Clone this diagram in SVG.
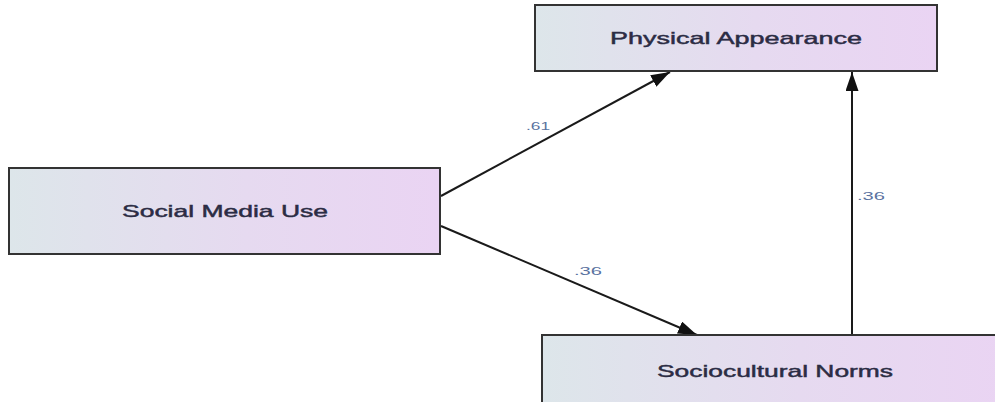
<svg xmlns="http://www.w3.org/2000/svg" width="995" height="402" viewBox="0 0 995 402">
  <defs>
    <linearGradient id="boxfill" x1="0" y1="0" x2="1" y2="0">
      <stop offset="0" stop-color="#dde6ea"/>
      <stop offset="0.55" stop-color="#e6daf0"/>
      <stop offset="1" stop-color="#ead4f3"/>
    </linearGradient>
    <marker id="arrow" markerUnits="userSpaceOnUse" markerWidth="20" markerHeight="14" refX="19" refY="6.5" orient="auto">
      <path d="M0,0 L19,6.5 L0,13 z" fill="#111"/>
    </marker>
  </defs>
  <style>
    .box { fill: url(#boxfill); stroke: #333; stroke-width: 2; }
    .label { font-family: "Liberation Sans", Arial, sans-serif; font-size: 17px; fill: #2b2c44; stroke: #2b2c44; stroke-width: 0.45; text-anchor: middle; }
    .coef { font-family: "Liberation Sans", Arial, sans-serif; font-size: 11px; fill: #5a72a0; text-anchor: middle; }
    .edge { stroke: #1a1a1a; stroke-width: 2; fill: none; marker-end: url(#arrow); }
  </style>
  <rect width="995" height="402" fill="#ffffff"/>
  <g id="connectors">
    <line class="edge" x1="441" y1="196" x2="670" y2="72"/>
    <line class="edge" x1="441" y1="226" x2="697" y2="335"/>
    <line class="edge" x1="852" y1="335" x2="852" y2="72"/>
    <text class="coef" x="538" y="130" textLength="24" lengthAdjust="spacingAndGlyphs">.61</text>
    <text class="coef" x="588" y="275" textLength="28" lengthAdjust="spacingAndGlyphs">.36</text>
    <text class="coef" x="871" y="200" textLength="28" lengthAdjust="spacingAndGlyphs">.36</text>
  </g>
  <g id="physical-appearance">
    <rect class="box" x="535" y="5" width="402" height="66"/>
    <text class="label" x="736" y="44" textLength="252" lengthAdjust="spacingAndGlyphs">Physical Appearance</text>
  </g>
  <g id="social-media-use">
    <rect class="box" x="9" y="168" width="431" height="86"/>
    <text class="label" x="225" y="217" textLength="206" lengthAdjust="spacingAndGlyphs">Social Media Use</text>
  </g>
  <g id="sociocultural-norms">
    <rect class="box" x="542" y="335" width="470" height="90"/>
    <text class="label" x="775" y="377" textLength="236" lengthAdjust="spacingAndGlyphs">Sociocultural Norms</text>
  </g>
</svg>
